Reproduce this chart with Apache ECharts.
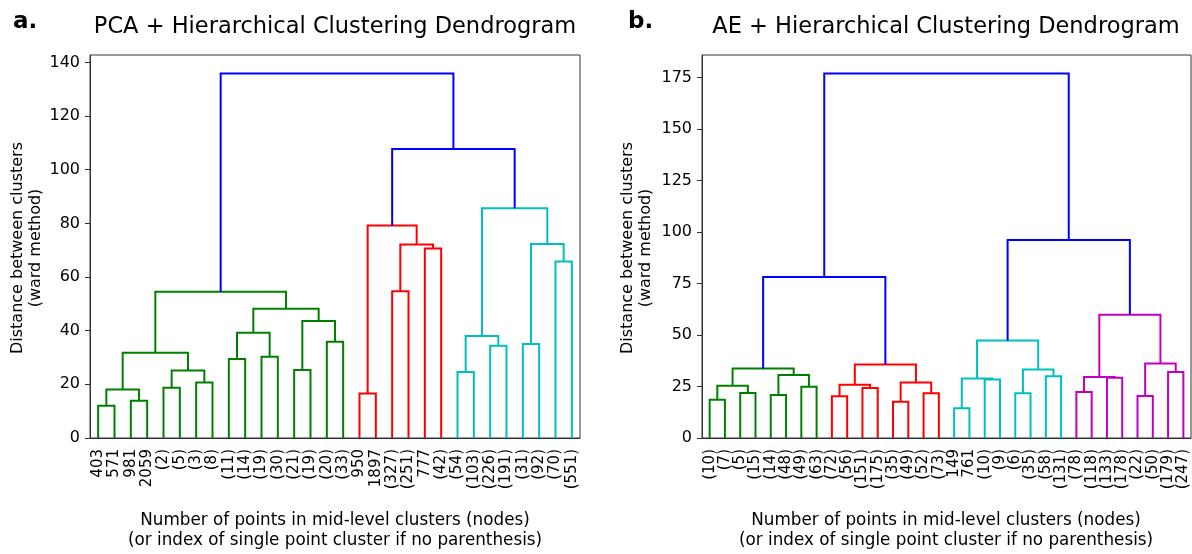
<!DOCTYPE html>
<html><head><meta charset="utf-8">
<script src="https://cdn.jsdelivr.net/npm/echarts@6/dist/echarts.min.js"></script>
<style>html,body{margin:0;padding:0;background:#fff}#c{width:1192px;height:554px}</style>
</head><body><div id="c"></div><script>
// ---------- Panel a: PCA ----------
const leavesA = ['403','571','981','2059','(2)','(5)','(3)','(8)','(11)','(14)','(19)','(30)','(21)','(19)','(20)','(33)','950','1897','(327)','(251)','777','(42)','(54)','(103)','(226)','(191)','(31)','(92)','(70)','(551)'];
// merges: child ids (leaves 0..n-1, merged nodes n+k)
const mergesA = [[0,1],[2,3],[30,31],[4,5],[6,7],[33,34],[32,35],[8,9],[10,11],[37,38],[12,13],[14,15],[40,41],[39,42],[36,43],
  [16,17],[18,19],[20,21],[46,47],[45,48],
  [22,23],[24,25],[50,51],[26,27],[28,29],[53,54],[52,55],
  [49,56],[44,57]];
const heightsA = [12.0,13.9,18.1,18.7,20.7,25.2,31.8,29.4,30.3,39.2,25.3,35.9,43.6,48.2,54.5,
  16.6,54.7,70.6,72.1,79.2,
  24.6,34.4,38.0,35.0,65.8,72.3,85.6,
  107.7,135.9];
const colorsA = ['g','g','g','g','g','g','g','g','g','g','g','g','g','g','g',
  'r','r','r','r','r',
  'c','c','c','c','c','c','c',
  'b','b'];
const yTicksA = [0,20,40,60,80,100,120,140];

// ---------- Panel b: AE ----------
const leavesB = ['(10)','(7)','(5)','(15)','(14)','(48)','(49)','(63)','(72)','(56)','(151)','(175)','(35)','(49)','(52)','(73)','149','761','(10)','(9)','(6)','(35)','(58)','(131)','(78)','(118)','(133)','(178)','(22)','(50)','(179)','(247)'];
const mergesB = [[0,1],[2,3],[32,33],[4,5],[6,7],[35,36],[34,37],
  [8,9],[10,11],[39,40],[12,13],[14,15],[42,43],[41,44],
  [38,45],
  [16,17],[18,19],[47,48],[20,21],[22,23],[50,51],[49,52],
  [24,25],[26,27],[54,55],[28,29],[30,31],[57,58],[56,59],
  [53,60],[46,61]];
const heightsB = [18.6,21.9,25.4,20.9,24.9,30.6,33.8,
  20.3,24.3,25.9,17.6,21.7,27.0,35.7,
  78.2,
  14.4,28.4,28.9,21.7,30.0,33.3,47.3,
  22.4,29.2,29.6,20.4,32.0,36.2,59.8,
  96.1,177.0];
const colorsB = ['g','g','g','g','g','g','g',
  'r','r','r','r','r','r','r',
  'b',
  'c','c','c','c','c','c','c',
  'm','m','m','m','m','m','m',
  'b','b'];
const yTicksB = [0,25,50,75,100,125,150,175];

const COLORS = {g:'#008000', r:'#ff0000', c:'#00bfbf', m:'#bf00bf', b:'#0000ff'};
const FONT = 'DejaVu Sans';

// scipy-style layout: leaf i sits at 5 + 10*i; merged node at the mean of its children
function buildLinks(n, merges, heights, colors){
  const xs = [], hs = [];
  for (let i = 0; i < n; i++){ xs.push(5 + 10*i); hs.push(0); }
  const out = [];
  merges.forEach((m, k) => {
    const a = m[0], b = m[1];
    out.push({value:[xs[a], hs[a], xs[b], hs[b], heights[k]], itemStyle:{color: COLORS[colors[k]]}});
    xs.push((xs[a] + xs[b]) / 2); hs.push(heights[k]);
  });
  return out;
}

function renderItem(params, api){
  const p0 = api.coord([api.value(0), api.value(1)]);
  const p1 = api.coord([api.value(0), api.value(4)]);
  const p2 = api.coord([api.value(2), api.value(4)]);
  const p3 = api.coord([api.value(2), api.value(3)]);
  return {type:'polyline', shape:{points:[p0,p1,p2,p3]},
    style:{fill:null, stroke: api.visual('color'), lineWidth:2}};
}

const AX = '#333';
function catAxis(grid, labels){
  return {gridIndex:grid, type:'category', data:labels, position:'bottom',
    axisLine:{show:true, lineStyle:{color:AX, width:1}}, axisTick:{show:false},
    axisLabel:{interval:0, rotate:90, fontSize:15, fontFamily:FONT, color:'#000', margin:11},
    splitLine:{show:false}};
}
function valXAxis(grid, n){
  return {gridIndex:grid, type:'value', min:0, max:10*n, show:false, splitLine:{show:false}};
}
function yAxis(grid, max, ticks){
  return {gridIndex:grid, type:'value', min:0, max:max,
    axisLine:{show:true, lineStyle:{color:AX, width:1}},
    axisTick:{show:true, length:5, customValues:ticks, lineStyle:{color:AX, width:1}},
    axisLabel:{customValues:ticks, fontSize:16, fontFamily:FONT, color:'#000', margin:10},
    splitLine:{show:false}};
}

function txt(x, y, text, size, opts){
  return Object.assign({type:'text', x:x, y:y, silent:true,
    style:{text:text, font: (opts && opts.bold ? 'bold ' : '') + size + 'px ' + FONT, fill:'#000',
      align:(opts && opts.align) || 'center', verticalAlign:'middle'}}, (opts && opts.rot) ? {rotation:Math.PI/2} : {});
}

const chart = echarts.init(document.getElementById('c'), null, {renderer:'canvas'});
chart.setOption({
  animation:false,
  backgroundColor:'#fff',
  grid:[
    {left:90, top:55, width:490, height:383, show:true, borderColor:AX, borderWidth:1, containLabel:false},
    {left:702, top:55, width:489, height:383, show:true, borderColor:AX, borderWidth:1, containLabel:false}
  ],
  xAxis:[catAxis(0, leavesA), valXAxis(0, leavesA.length), catAxis(1, leavesB), valXAxis(1, leavesB.length)],
  yAxis:[yAxis(0, 142.75, yTicksA), yAxis(1, 186, yTicksB)],
  series:[
    {type:'custom', xAxisIndex:1, yAxisIndex:0, renderItem:renderItem, data:buildLinks(leavesA.length, mergesA, heightsA, colorsA), encode:{x:[0,2], y:[1,3,4]}},
    {type:'custom', xAxisIndex:3, yAxisIndex:1, renderItem:renderItem, data:buildLinks(leavesB.length, mergesB, heightsB, colorsB), encode:{x:[0,2], y:[1,3,4]}}
  ],
  graphic:[
    txt(13, 22, 'a.', 23, {bold:true, align:'left'}),
    txt(335, 27, 'PCA + Hierarchical Clustering Dendrogram', 22.5),
    txt(628, 22, 'b.', 23, {bold:true, align:'left'}),
    txt(946, 27, 'AE + Hierarchical Clustering Dendrogram', 22.5),
    txt(18, 248, 'Distance between clusters', 16, {rot:true}),
    txt(36, 248, '(ward method)', 16, {rot:true}),
    txt(628, 248, 'Distance between clusters', 16, {rot:true}),
    txt(646, 248, '(ward method)', 16, {rot:true}),
    txt(335, 521, 'Number of points in mid-level clusters (nodes)', 16.8),
    txt(335, 541, '(or index of single point cluster if no parenthesis)', 16.8),
    txt(946, 521, 'Number of points in mid-level clusters (nodes)', 16.8),
    txt(946, 541, '(or index of single point cluster if no parenthesis)', 16.8)
  ]
});
</script></body></html>
